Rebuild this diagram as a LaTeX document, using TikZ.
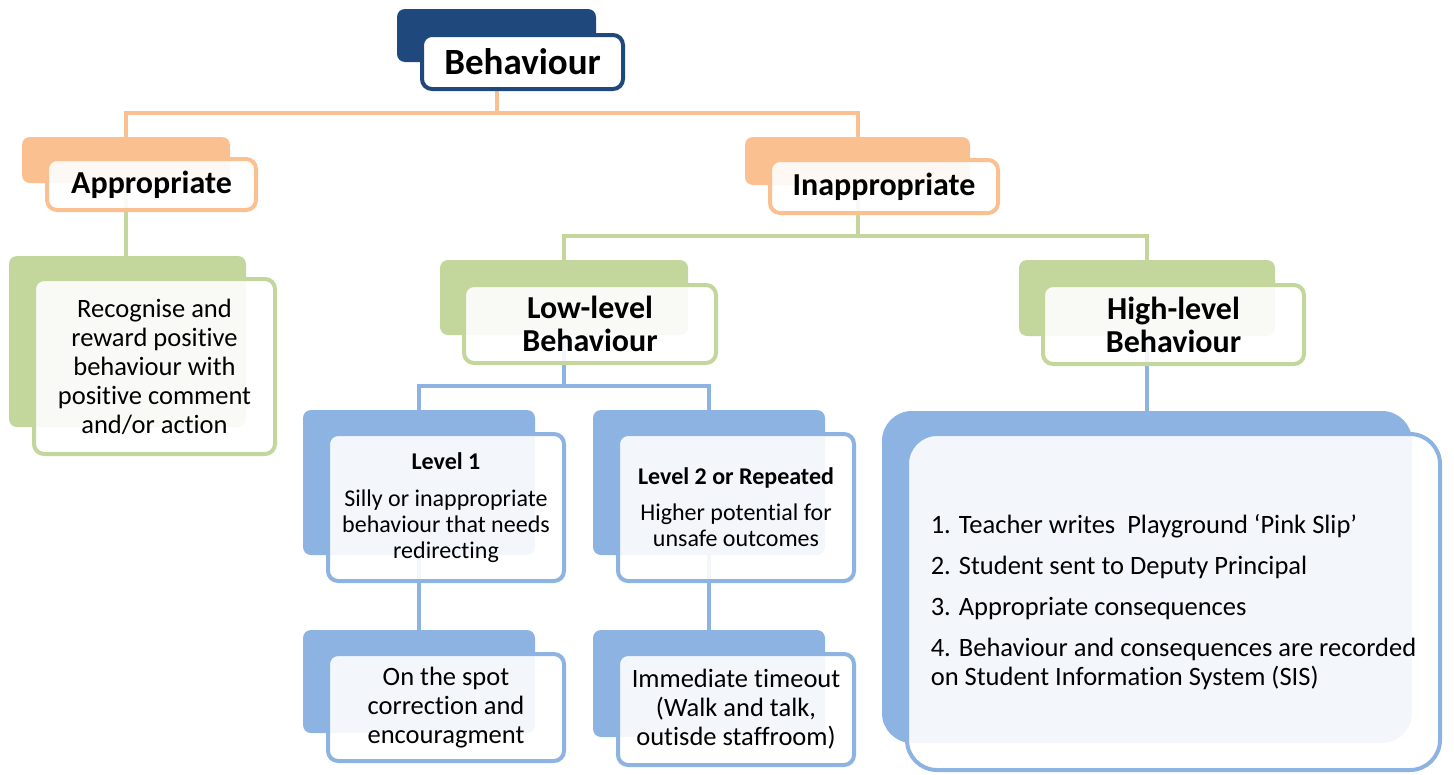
\documentclass[tikz,border=0pt]{standalone}
\usepackage{fontspec}
\setmainfont{Carlito}[Ligatures=NoCommon]
\usetikzlibrary{backgrounds}
\definecolor{darkblue}{HTML}{1F497D}
\definecolor{peach}{HTML}{FAC090}
\definecolor{sage}{HTML}{C3D69B}
\definecolor{skyblue}{HTML}{8DB3E2}

\begin{document}
\begin{tikzpicture}[x=1pt, y=-1pt]
	\tikzstyle{back} = [rounded corners=8pt, inner sep=0pt]
	\tikzstyle{front} = [rounded corners=10pt, draw, line width=4pt, fill=white, fill opacity=0.9, text opacity=1, align=center, inner sep=0pt]
	\tikzstyle{title} = [font=\fontsize{32}{33}\selectfont\bfseries]
	\tikzstyle{body} = [font=\fontsize{26.5}{29}\selectfont]
	\tikzstyle{small} = [font=\fontsize{24}{26}\selectfont]
	\tikzstyle{link} = [line width=4pt]

	\useasboundingbox (0,0) rectangle (1454,774);

	% back boxes
	\foreach \name/\col/\x/\y/\w/\h in {beh_b/darkblue/496.5/35.5/199/53,
		app_b/peach/126/160/208/46, inapp_b/peach/857.5/161/225/48,
		rec_b/sage/127.5/341.5/237/171, low_b/sage/564/297.5/248/75, high_b/sage/1147/298/256/76,
		lvla_b/skyblue/419/482.5/232/145, lvlb_b/skyblue/709/482.5/232/145,
		spot_b/skyblue/419/681.5/232/103, time_b/skyblue/709/683.5/232/107}
		\node[back, fill=\col, minimum width=\w pt, minimum height=\h pt] (\name) at (\x, \y) {};
	\node[back, fill=skyblue, rounded corners=30pt, minimum width=530pt, minimum height=332pt] (sis_b) at (1147, 577) {};

	% front boxes
	\node[front, draw=darkblue, fill opacity=1, minimum width=201pt, minimum height=54pt,
		font=\fontsize{37}{40}\selectfont\bfseries] (beh) at (522.5, 62) {Behaviour};
	\node[front, title, draw=peach, minimum width=209pt, minimum height=51pt] (app) at (151.5, 184.5) {Appropriate};
	\node[front, title, draw=peach, minimum width=228pt, minimum height=53pt] (inapp) at (884, 186.5) {Inappropriate};
	\node[front, body, draw=sage, minimum width=241pt, minimum height=175pt] (rec) at (154.5, 366.5)
		{Recognise and\\reward positive\\behaviour with\\positive comment\\and/or action};
	\node[front, title, draw=sage, minimum width=252pt, minimum height=78pt] (low) at (590, 324) {Low-level\\Behaviour};
	\node[front, title, draw=sage, minimum width=261pt, minimum height=79pt] (high) at (1173.5, 324.5) {High-level\\Behaviour};
	\node[front, small, draw=skyblue, minimum width=236pt, minimum height=147pt] (lvla) at (446, 507.5)
		{\bfseries Level 1\\[11pt]Silly or inappropriate\\behaviour that needs\\redirecting};
	\node[front, small, draw=skyblue, minimum width=236pt, minimum height=147pt] (lvlb) at (736, 507.5)
		{\bfseries Level 2 or Repeated\\[10pt]Higher potential for\\unsafe outcomes};
	\node[front, body, draw=skyblue, minimum width=236pt, minimum height=107pt] (spot) at (446, 707.5)
		{On the spot\\correction and\\encouragment};
	\node[front, body, draw=skyblue, minimum width=236pt, minimum height=111pt] (time) at (736, 709.5)
		{Immediate timeout\\(Walk and talk,\\outisde staffroom)};
	\node[front, body, align=left, draw=skyblue, rounded corners=30pt, minimum width=533pt, minimum height=336pt] (sis) at (1173.5, 602)
		{1. Teacher writes\ \ Playground ‘Pink Slip’\\[12pt]2. Student sent to Deputy Principal\\[12pt]3. Appropriate consequences\\[12pt]4. Behaviour and consequences are recorded\\on Student Information System (SIS)};

	% connectors
	\begin{scope}[on background layer]
		\draw[link, peach] (beh_b.south) -- ++(0,51) coordinate (beh_fork);
		\draw[link, peach] (app_b.north) |- (beh_fork) -| (inapp_b.north);
		\draw[link, sage] (app_b.south) -- (app_b.south |- rec_b.north);
		\draw[link, sage] (inapp_b.south) -- ++(0,51) coordinate (inapp_fork);
		\draw[link, sage] (low_b.north) |- (inapp_fork) -| (high_b.north);
		\draw[link, skyblue] (low_b.south) -- ++(0,51) coordinate (low_fork);
		\draw[link, skyblue] (lvla_b.north) |- (low_fork) -| (lvlb_b.north);
		\foreach \from/\to in {high_b/sis_b, lvla_b/spot_b, lvlb_b/time_b}
			\draw[link, skyblue] (\from.south) -- (\to.north);
	\end{scope}

\end{tikzpicture}
\end{document}
